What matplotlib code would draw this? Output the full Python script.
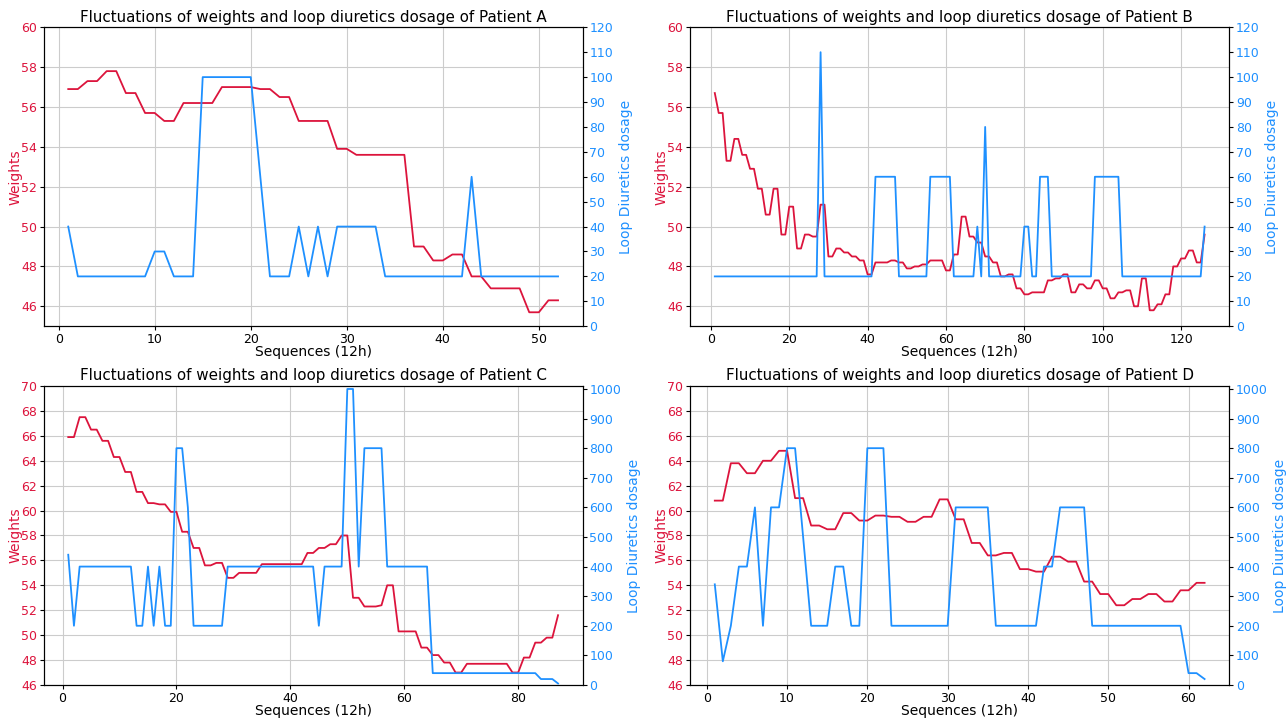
import matplotlib.pyplot as plt
import numpy as np

WEIGHT_COLOR = "crimson"
DOSAGE_COLOR = "dodgerblue"

WEIGHTS_A = [
    56.9, 56.9, 57.3, 57.3, 57.8, 57.8, 56.7, 56.7, 55.7, 55.7,
    55.3, 55.3, 56.2, 56.2, 56.2, 56.2, 57.0, 57.0, 57.0, 57.0,
    56.9, 56.9, 56.5, 56.5, 55.3, 55.3, 55.3, 55.3, 53.9, 53.9,
    53.6, 53.6, 53.6, 53.6, 53.6, 53.6, 49.0, 49.0, 48.3, 48.3,
    48.6, 48.6, 47.5, 47.5, 46.9, 46.9, 46.9, 46.9, 45.7, 45.7,
    46.3, 46.3,
]
DOSAGE_A = [
    40, 20, 20, 20, 20, 20, 20, 20, 20, 30,
    30, 20, 20, 20, 100, 100, 100, 100, 100, 100,
    60, 20, 20, 20, 40, 20, 40, 20, 40, 40,
    40, 40, 40, 20, 20, 20, 20, 20, 20, 20,
    20, 20, 60, 20, 20, 20, 20, 20, 20, 20,
    20, 20,
]

WEIGHTS_B = [
    56.7, 55.7, 55.7, 53.3, 53.3, 54.4, 54.4, 53.6, 53.6, 52.9,
    52.9, 51.9, 51.9, 50.6, 50.6, 51.9, 51.9, 49.6, 49.6, 51.0,
    51.0, 48.9, 48.9, 49.6, 49.6, 49.5, 49.5, 51.1, 51.1, 48.5,
    48.5, 48.9, 48.9, 48.7, 48.7, 48.5, 48.5, 48.3, 48.3, 47.6,
    47.6, 48.2, 48.2, 48.2, 48.2, 48.3, 48.3, 48.2, 48.2, 47.9,
    47.9, 48.0, 48.0, 48.1, 48.1, 48.3, 48.3, 48.3, 48.3, 47.8,
    47.8, 48.6, 48.6, 50.5, 50.5, 49.5, 49.5, 49.2, 49.2, 48.5,
    48.5, 48.2, 48.2, 47.5, 47.5, 47.6, 47.6, 46.9, 46.9, 46.6,
    46.6, 46.7, 46.7, 46.7, 46.7, 47.3, 47.3, 47.4, 47.4, 47.6,
    47.6, 46.7, 46.7, 47.1, 47.1, 46.9, 46.9, 47.3, 47.3, 46.9,
    46.9, 46.4, 46.4, 46.7, 46.7, 46.8, 46.8, 46.0, 46.0, 47.4,
    47.4, 45.8, 45.8, 46.1, 46.1, 46.6, 46.6, 48.0, 48.0, 48.4,
    48.4, 48.8, 48.8, 48.2, 48.2, 49.6,
]
DOSAGE_B = [
    20, 20, 20, 20, 20, 20, 20, 20, 20, 20,
    20, 20, 20, 20, 20, 20, 20, 20, 20, 20,
    20, 20, 20, 20, 20, 20, 20, 110, 20, 20,
    20, 20, 20, 20, 20, 20, 20, 20, 20, 20,
    20, 60, 60, 60, 60, 60, 60, 20, 20, 20,
    20, 20, 20, 20, 20, 60, 60, 60, 60, 60,
    60, 20, 20, 20, 20, 20, 20, 40, 20, 80,
    20, 20, 20, 20, 20, 20, 20, 20, 20, 40,
    40, 20, 20, 60, 60, 60, 20, 20, 20, 20,
    20, 20, 20, 20, 20, 20, 20, 60, 60, 60,
    60, 60, 60, 60, 20, 20, 20, 20, 20, 20,
    20, 20, 20, 20, 20, 20, 20, 20, 20, 20,
    20, 20, 20, 20, 20, 40,
]

WEIGHTS_C = [
    65.9, 65.9, 67.5, 67.5, 66.5, 66.5, 65.6, 65.6, 64.3, 64.3,
    63.1, 63.1, 61.5, 61.5, 60.6, 60.6, 60.5, 60.5, 59.9, 59.9,
    58.3, 58.3, 57.0, 57.0, 55.6, 55.6, 55.8, 55.8, 54.6, 54.6,
    55.0, 55.0, 55.0, 55.0, 55.7, 55.7, 55.7, 55.7, 55.7, 55.7,
    55.7, 55.7, 56.6, 56.6, 57.0, 57.0, 57.3, 57.3, 58.0, 58.0,
    53.0, 53.0, 52.3, 52.3, 52.3, 52.4, 54.0, 54.0, 50.3, 50.3,
    50.3, 50.3, 49.0, 49.0, 48.4, 48.4, 47.8, 47.8, 47.0, 47.0,
    47.7, 47.7, 47.7, 47.7, 47.7, 47.7, 47.7, 47.7, 47.0, 47.0,
    48.2, 48.2, 49.4, 49.4, 49.8, 49.8, 51.6,
]
DOSAGE_C = [
    440, 200, 400, 400, 400, 400, 400, 400, 400, 400,
    400, 400, 200, 200, 400, 200, 400, 200, 200, 800,
    800, 600, 200, 200, 200, 200, 200, 200, 400, 400,
    400, 400, 400, 400, 400, 400, 400, 400, 400, 400,
    400, 400, 400, 400, 200, 400, 400, 400, 400, 1000,
    1000, 400, 800, 800, 800, 800, 400, 400, 400, 400,
    400, 400, 400, 400, 40, 40, 40, 40, 40, 40,
    40, 40, 40, 40, 40, 40, 40, 40, 40, 40,
    40, 40, 40, 20, 20, 20, 5,
]

WEIGHTS_D = [
    60.8, 60.8, 63.8, 63.8, 63.0, 63.0, 64.0, 64.0, 64.8, 64.8,
    61.0, 61.0, 58.8, 58.8, 58.5, 58.5, 59.8, 59.8, 59.2, 59.2,
    59.6, 59.6, 59.5, 59.5, 59.1, 59.1, 59.5, 59.5, 60.9, 60.9,
    59.3, 59.3, 57.4, 57.4, 56.4, 56.4, 56.6, 56.6, 55.3, 55.3,
    55.1, 55.1, 56.3, 56.3, 55.9, 55.9, 54.3, 54.3, 53.3, 53.3,
    52.4, 52.4, 52.9, 52.9, 53.3, 53.3, 52.7, 52.7, 53.6, 53.6,
    54.2, 54.2,
]
DOSAGE_D = [
    340, 80, 200, 400, 400, 600, 200, 600, 600, 800,
    800, 500, 200, 200, 200, 400, 400, 200, 200, 800,
    800, 800, 200, 200, 200, 200, 200, 200, 200, 200,
    600, 600, 600, 600, 600, 200, 200, 200, 200, 200,
    200, 400, 400, 600, 600, 600, 600, 200, 200, 200,
    200, 200, 200, 200, 200, 200, 200, 200, 200, 40,
    40, 20,
]

PATIENTS = ["A", "B", "C", "D"]


def plot_patient(axis, weights, dosage, patient, weight_lim, dosage_lim, dosage_step):
    sequences = np.arange(1, len(weights) + 1)

    axis.plot(sequences, weights, color=WEIGHT_COLOR, linewidth=1.3)
    axis.set_ylim(*weight_lim)
    axis.set_yticks(np.arange(weight_lim[0] + weight_lim[0] % 2, weight_lim[1] + 1, 2))
    axis.set_xlabel("Sequences (12h)", fontsize=10, labelpad=-1)
    axis.set_ylabel("Weights", color=WEIGHT_COLOR, fontsize=10, labelpad=-1)
    axis.tick_params(axis="y", labelcolor=WEIGHT_COLOR)
    axis.tick_params(labelsize=9, length=3, pad=2)
    axis.grid(True, color="#cccccc", linewidth=0.8)
    axis.set_title(
        f"Fluctuations of weights and loop diuretics dosage of Patient {patient}",
        fontsize=10.9,
        pad=4,
    )

    twin = axis.twinx()
    twin.plot(sequences, dosage, color=DOSAGE_COLOR, linewidth=1.3)
    twin.set_ylim(*dosage_lim)
    twin.set_yticks(np.arange(0, dosage_lim[1] + 1, dosage_step))
    twin.set_ylabel("Loop Diuretics dosage", color=DOSAGE_COLOR, fontsize=10)
    twin.tick_params(axis="y", labelcolor=DOSAGE_COLOR, labelsize=9, length=3, pad=2)


def main() -> None:
    figure, axes = plt.subplots(2, 2, figsize=(12.87, 7.18), dpi=100)
    figure.subplots_adjust(left=0.034, right=0.955, bottom=0.046, top=0.962,
                           wspace=0.2, hspace=0.2)

    plot_patient(axes[0, 0], WEIGHTS_A, DOSAGE_A, PATIENTS[0], (45, 60), (0, 120), 10)
    plot_patient(axes[0, 1], WEIGHTS_B, DOSAGE_B, PATIENTS[1], (45, 60), (0, 120), 10)
    plot_patient(axes[1, 0], WEIGHTS_C, DOSAGE_C, PATIENTS[2], (46, 70), (0, 1010), 100)
    plot_patient(axes[1, 1], WEIGHTS_D, DOSAGE_D, PATIENTS[3], (46, 70), (0, 1010), 100)

    figure.savefig("out.png", dpi=100)
    plt.close(figure)


if __name__ == "__main__":
    main()
